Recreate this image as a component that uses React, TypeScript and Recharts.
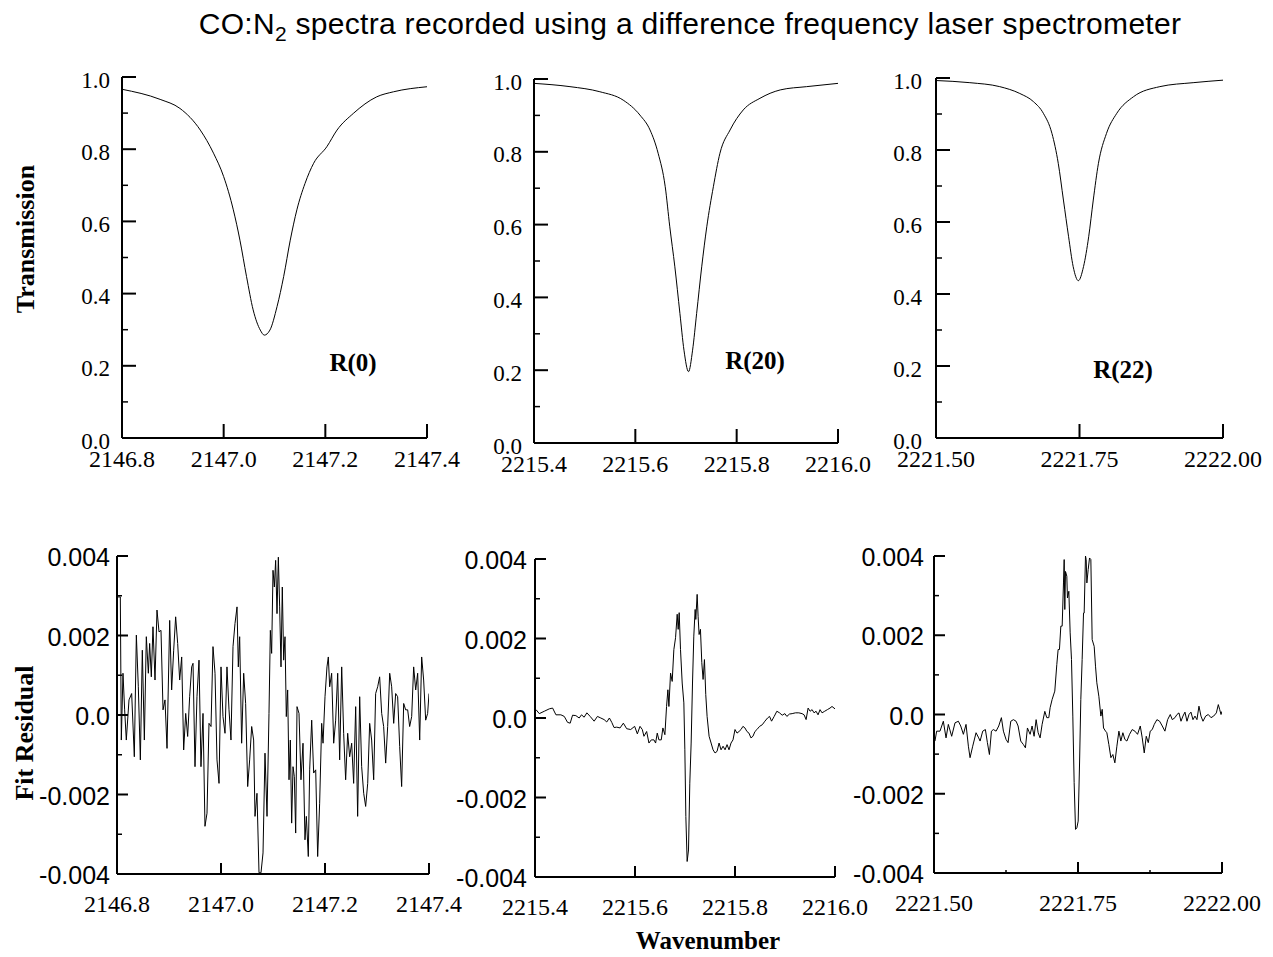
import React from "react";
import { LineChart, Line, XAxis, YAxis } from "recharts";

const SERIF = "'Liberation Serif', 'Times New Roman', serif";
const SANS = "'Liberation Sans', Arial, sans-serif";

// transmission, [wavenumber, transmission]
const transR0: [number, number][] = [
  [2146.8, 0.966], [2146.875, 0.938], [2146.914, 0.913], [2146.954, 0.853], [2146.98, 0.789],
  [2147.0, 0.724], [2147.019, 0.632], [2147.032, 0.548], [2147.045, 0.447], [2147.058, 0.355],
  [2147.072, 0.299], [2147.08, 0.285], [2147.091, 0.299], [2147.105, 0.364], [2147.118, 0.447],
  [2147.131, 0.548], [2147.144, 0.632], [2147.16, 0.705], [2147.177, 0.761], [2147.203, 0.807],
  [2147.223, 0.853], [2147.255, 0.899], [2147.301, 0.945], [2147.334, 0.959], [2147.4, 0.973],
];

const transR20: [number, number][] = [
  [2215.4, 0.988], [2215.471, 0.979], [2215.53, 0.965], [2215.576, 0.942], [2215.609, 0.901],
  [2215.629, 0.86], [2215.645, 0.796], [2215.659, 0.704], [2215.668, 0.594], [2215.678, 0.484],
  [2215.688, 0.356], [2215.696, 0.255], [2215.705, 0.196], [2215.713, 0.255], [2215.721, 0.356],
  [2215.731, 0.484], [2215.741, 0.594], [2215.754, 0.704], [2215.767, 0.796], [2215.787, 0.86],
  [2215.813, 0.915], [2215.846, 0.947], [2215.886, 0.97], [2215.938, 0.979], [2216.0, 0.988],
];

const transR22: [number, number][] = [
  [2221.5, 0.993], [2221.559, 0.987], [2221.611, 0.976], [2221.646, 0.957], [2221.67, 0.934],
  [2221.687, 0.902], [2221.702, 0.846], [2221.713, 0.763], [2221.722, 0.661], [2221.731, 0.559],
  [2221.739, 0.476], [2221.748, 0.437], [2221.757, 0.476], [2221.766, 0.559], [2221.774, 0.661],
  [2221.783, 0.763], [2221.797, 0.846], [2221.815, 0.902], [2221.844, 0.948], [2221.89, 0.976],
  [2221.948, 0.987], [2222.0, 0.994],
];

// fit residuals, [wavenumber, residual]
const residR0: [number, number][] = [
  [2146.8, 0.00297], [2146.8064, 0.00297], [2146.8083, -0.00063], [2146.8115, 0.00105], [2146.8147, 0.00013],
  [2146.8179, -0.00063], [2146.8231, 0.00038], [2146.8282, 0.00054], [2146.8333, -0.00105], [2146.8372, 0.00201],
  [2146.841, 0.00071], [2146.8449, -0.00113], [2146.8487, 0.00163], [2146.8526, -0.00063], [2146.8564, 0.00197],
  [2146.8603, 0.00105], [2146.8628, 0.0018], [2146.866, 0.00096], [2146.8692, 0.00222], [2146.8731, 0.00088],
  [2146.8769, 0.00264], [2146.8808, 0.00209], [2146.8846, 0.00213], [2146.8885, 0.00013], [2146.8923, 0.00038],
  [2146.8962, -0.00084], [2146.9013, 0.00238], [2146.9051, 0.00063], [2146.909, 0.00163], [2146.9128, 0.00247],
  [2146.9167, 0.0018], [2146.9205, 0.00088], [2146.9244, 0.00146], [2146.9282, -0.00088], [2146.9321, 0.00004],
  [2146.9359, -0.00054], [2146.9397, 0.00046], [2146.9436, 0.00121], [2146.9462, 0.0013], [2146.95, -0.0013],
  [2146.9538, 0.00046], [2146.9577, 0.00138], [2146.9615, -0.0013], [2146.9654, 0.00004], [2146.9692, -0.0028],
  [2146.9731, -0.00247], [2146.9769, -0.00021], [2146.9808, -0.00029], [2146.9846, 0.00172], [2146.9885, 0.00105],
  [2146.9923, -0.00113], [2146.9962, -0.00172], [2147.0, 0.00121], [2147.0038, -0.00004], [2147.0077, -0.00046],
  [2147.0115, 0.00121], [2147.0154, 0.00013], [2147.0192, -0.00063], [2147.0231, 0.00172], [2147.0269, 0.0023],
  [2147.0308, 0.00272], [2147.0333, 0.00121], [2147.0359, 0.00197], [2147.0397, -0.00071], [2147.0436, 0.00105],
  [2147.0474, 0.00029], [2147.0513, -0.0018], [2147.0551, -0.00113], [2147.059, -0.00029], [2147.0628, -0.00063],
  [2147.0654, -0.00255], [2147.0692, -0.00197], [2147.0731, -0.00397], [2147.0769, -0.00397], [2147.0808, -0.00347],
  [2147.0846, -0.00096], [2147.0885, -0.00255], [2147.0923, 0.00004], [2147.0949, 0.00213], [2147.0974, 0.00155],
  [2147.1, 0.00364], [2147.1026, 0.00322], [2147.1051, 0.00389], [2147.1077, 0.00255], [2147.1103, 0.00397],
  [2147.1128, 0.00272], [2147.1154, 0.00121], [2147.1179, 0.00322], [2147.1205, 0.00138], [2147.1231, 0.00197],
  [2147.1256, -0.00004], [2147.1282, 0.00063], [2147.1308, -0.00163], [2147.1333, -0.00063], [2147.1359, -0.00272],
  [2147.1385, -0.0013], [2147.141, -0.00155], [2147.1436, -0.00297], [2147.1462, 0.00021], [2147.15, 0.00004],
  [2147.1538, -0.00163], [2147.1577, -0.00071], [2147.1615, -0.00314], [2147.1641, -0.00255], [2147.1679, -0.00356],
  [2147.1705, -0.00138], [2147.1744, -0.00013], [2147.1782, -0.00146], [2147.1821, -0.00138], [2147.1859, -0.00356],
  [2147.1897, -0.00222], [2147.1936, -0.00021], [2147.1962, -0.00071], [2147.2, 0.00046], [2147.2038, 0.00121],
  [2147.2064, 0.00146], [2147.209, 0.00071], [2147.2128, 0.00105], [2147.2167, -0.00071], [2147.2205, -0.00013],
  [2147.2244, 0.00105], [2147.2282, -0.00113], [2147.2321, 0.00121], [2147.2359, -0.00046], [2147.2397, -0.00163],
  [2147.2436, -0.00046], [2147.2474, -0.00105], [2147.2513, -0.00071], [2147.2551, -0.00172], [2147.259, 0.00021],
  [2147.2628, -0.00255], [2147.2667, 0.00046], [2147.2705, -0.0013], [2147.2744, -0.00197], [2147.2782, -0.0023],
  [2147.2821, -0.00172], [2147.2859, -0.00021], [2147.2897, -0.00063], [2147.2936, -0.00163], [2147.2974, 0.00054],
  [2147.3013, 0.00071], [2147.3051, 0.00096], [2147.309, 0.00004], [2147.3128, -0.00029], [2147.3167, -0.00121],
  [2147.3205, -0.00029], [2147.3244, 0.00105], [2147.3282, 0.00071], [2147.3321, -0.00021], [2147.3359, 0.00054],
  [2147.3397, 0.00046], [2147.3436, -0.00079], [2147.3474, -0.0018], [2147.3513, 0.00029], [2147.3551, 0.00013],
  [2147.359, 0.00013], [2147.3628, -0.00029], [2147.3667, -0.00004], [2147.3705, 0.00121], [2147.3744, 0.00063],
  [2147.3782, 0.00105], [2147.3821, -0.00063], [2147.3859, 0.00146], [2147.3897, 0.00088], [2147.3936, -0.00013],
  [2147.3974, 0.00004], [2147.4, 0.00054],
];

const residR20: [number, number][] = [
  [2215.402, 0.00021], [2215.4086, 0.00011], [2215.4186, 0.00017], [2215.4286, 0.00023], [2215.4352, 0.00025],
  [2215.4419, 0.00008], [2215.4518, 0.00008], [2215.4585, 0.00004], [2215.4651, -0.00011], [2215.4704, -0.00013],
  [2215.4751, 0.00007], [2215.4817, 0.00006], [2215.4884, 0.0], [2215.493, 0.00008], [2215.4983, 0.00002],
  [2215.5037, 0.00013], [2215.5103, 0.00004], [2215.5183, -0.00008], [2215.5249, 0.00004], [2215.5316, 0.0],
  [2215.5382, -0.00004], [2215.5435, -0.0001], [2215.5488, 0.0], [2215.5535, -0.00011], [2215.5581, -0.00024],
  [2215.5635, -0.00023], [2215.5701, -0.00025], [2215.5767, -0.00013], [2215.5834, -0.00027], [2215.5914, -0.00029],
  [2215.5993, -0.00021], [2215.6047, -0.0004], [2215.61, -0.00021], [2215.6146, -0.00029], [2215.6179, -0.00046],
  [2215.6233, -0.00034], [2215.6279, -0.00063], [2215.6326, -0.00055], [2215.6379, -0.00055], [2215.6412, -0.00063],
  [2215.6445, -0.00038], [2215.6478, -0.00055], [2215.6525, -0.00055], [2215.6558, -0.00025], [2215.6598, -0.00042],
  [2215.6631, 0.00029], [2215.6658, 0.00071], [2215.6678, 0.00029], [2215.6711, 0.00113], [2215.6744, 0.00092],
  [2215.6777, 0.00172], [2215.6811, 0.00202], [2215.6844, 0.00261], [2215.6864, 0.00223], [2215.6884, 0.00265],
  [2215.691, 0.00172], [2215.6944, 0.00088], [2215.6977, 0.00038], [2215.6997, -0.0008], [2215.7017, -0.00248],
  [2215.7043, -0.00361], [2215.707, -0.00332], [2215.7096, -0.00164], [2215.7123, -0.00063], [2215.715, 0.00088],
  [2215.7176, 0.00206], [2215.7203, 0.00273], [2215.7216, 0.00248], [2215.7243, 0.00311], [2215.7262, 0.00256],
  [2215.7282, 0.0021], [2215.7309, 0.00223], [2215.7336, 0.00139], [2215.7362, 0.00097], [2215.7389, 0.00147],
  [2215.7415, 0.00059], [2215.7442, 0.00004], [2215.7482, -0.00046], [2215.7522, -0.00063], [2215.7561, -0.0008],
  [2215.7601, -0.00088], [2215.7641, -0.00084], [2215.7681, -0.00063], [2215.7721, -0.0008], [2215.7761, -0.00071],
  [2215.7801, -0.0008], [2215.7841, -0.00067], [2215.788, -0.0008], [2215.792, -0.00063], [2215.796, -0.00055],
  [2215.8, -0.00029], [2215.804, -0.00038], [2215.808, -0.00034], [2215.812, -0.00029], [2215.8159, -0.00021],
  [2215.8199, -0.00025], [2215.8239, -0.00034], [2215.8279, -0.00038], [2215.8319, -0.0005], [2215.8359, -0.00046],
  [2215.8399, -0.00034], [2215.8439, -0.00029], [2215.8492, -0.00021], [2215.8545, -0.00017], [2215.8598, -0.00008],
  [2215.8651, 0.0], [2215.8691, 0.00004], [2215.8731, -0.00008], [2215.8784, 0.00004], [2215.8837, 0.00017],
  [2215.889, 0.00013], [2215.8944, 0.00007], [2215.8997, 0.00011], [2215.9037, 0.00004], [2215.909, 0.0001],
  [2215.9143, 0.00011], [2215.9209, 0.00013], [2215.9276, 0.00013], [2215.9342, 0.00011], [2215.9382, 0.00008],
  [2215.9422, -0.00004], [2215.9462, 0.00025], [2215.9502, 0.00017], [2215.9542, 0.00021], [2215.9581, 0.00013],
  [2215.9621, 0.00017], [2215.9661, 0.00008], [2215.9701, 0.00021], [2215.9741, 0.00013], [2215.9794, 0.00017],
  [2215.9847, 0.00021], [2215.99, 0.00025], [2215.994, 0.00029], [2216.0, 0.00023],
];

const residR22: [number, number][] = [
  [2221.5017, -0.00067], [2221.5046, -0.00042], [2221.5104, -0.00042], [2221.5162, -0.00017], [2221.5209, -0.00059],
  [2221.5249, -0.00025], [2221.5307, -0.00055], [2221.5365, -0.00021], [2221.5423, -0.00017], [2221.5464, -0.00029],
  [2221.551, -0.0005], [2221.5556, -0.00025], [2221.5597, -0.0008], [2221.5626, -0.00109], [2221.5672, -0.0008],
  [2221.573, -0.00046], [2221.5776, -0.00059], [2221.58, -0.00067], [2221.5846, -0.00042], [2221.5892, -0.00038],
  [2221.5927, -0.00071], [2221.5962, -0.00101], [2221.5997, -0.00042], [2221.6031, -0.00038], [2221.6078, -0.00042],
  [2221.6124, -0.00029], [2221.617, -0.00008], [2221.6205, -0.00042], [2221.6251, -0.00063], [2221.6286, -0.00071],
  [2221.6333, -0.00017], [2221.6379, -0.00013], [2221.6425, -0.00017], [2221.646, -0.00029], [2221.6506, -0.00067],
  [2221.6553, -0.00076], [2221.6587, -0.00084], [2221.6622, -0.00034], [2221.6645, -0.00042], [2221.6669, -0.0005],
  [2221.6703, -0.00029], [2221.6738, -0.00055], [2221.6773, -0.00013], [2221.6808, -0.00046], [2221.6842, -0.00059],
  [2221.6877, -0.00025], [2221.6924, 0.00008], [2221.6958, -0.00008], [2221.6993, -0.00008], [2221.7016, 0.00017],
  [2221.7051, 0.00038], [2221.7097, 0.00059], [2221.7132, 0.00126], [2221.7155, 0.00164], [2221.7178, 0.00164],
  [2221.7202, 0.00223], [2221.7225, 0.00223], [2221.7248, 0.00332], [2221.726, 0.00391], [2221.7271, 0.00265],
  [2221.7283, 0.00361], [2221.7306, 0.00349], [2221.7317, 0.00294], [2221.7341, 0.00311], [2221.7364, 0.00206],
  [2221.7387, 0.00139], [2221.741, -0.00004], [2221.7433, -0.00172], [2221.7457, -0.0029], [2221.748, -0.00286],
  [2221.7503, -0.00269], [2221.7526, -0.0013], [2221.7549, 0.00038], [2221.7572, 0.00139], [2221.7596, 0.00256],
  [2221.7607, 0.00256], [2221.763, 0.004], [2221.7642, 0.00391], [2221.7654, 0.00332], [2221.7677, 0.00366],
  [2221.77, 0.00395], [2221.7723, 0.00391], [2221.7746, 0.00189], [2221.7781, 0.00172], [2221.7804, 0.00122],
  [2221.7827, 0.0008], [2221.7862, 0.00046], [2221.7897, -0.00004], [2221.792, 0.00013], [2221.7943, -0.00034],
  [2221.7978, -0.00042], [2221.8001, -0.00046], [2221.8036, -0.00076], [2221.8071, -0.00109], [2221.8105, -0.00101],
  [2221.814, -0.00122], [2221.8175, -0.0008], [2221.821, -0.00042], [2221.8244, -0.00067], [2221.8279, -0.00046],
  [2221.8314, -0.00063], [2221.8349, -0.00067], [2221.8395, -0.0005], [2221.8441, -0.00038], [2221.8488, -0.00042],
  [2221.8534, -0.0005], [2221.8581, -0.00029], [2221.8615, -0.00059], [2221.865, -0.00097], [2221.8685, -0.00055],
  [2221.872, -0.00071], [2221.8754, -0.00042], [2221.8789, -0.00038], [2221.8824, -0.00025], [2221.887, -0.00013],
  [2221.8917, -0.00017], [2221.8963, -0.00029], [2221.9009, -0.00042], [2221.9056, -0.00013], [2221.9102, 0.0],
  [2221.9137, -0.00013], [2221.9183, -0.00008], [2221.9218, 0.0], [2221.9253, 0.00004], [2221.9288, -0.00017],
  [2221.9322, -0.00004], [2221.9357, 0.00006], [2221.9392, -0.00017], [2221.9427, 0.0], [2221.9461, 0.00006],
  [2221.9496, -0.00013], [2221.9531, -0.00004], [2221.9565, -0.00013], [2221.96, 0.00021], [2221.9635, -0.00004],
  [2221.967, -0.00017], [2221.9716, -0.00004], [2221.9762, 0.0], [2221.9809, -0.00008], [2221.9855, -0.00004],
  [2221.9902, 0.00004], [2221.9936, 0.00025], [2221.9959, 0.00013], [2221.9983, 0.0], [2222.0, 0.00008],
];

// axis ticks
const transTicks = [0, 0.2, 0.4, 0.6, 0.8, 1.0];
const transMinor = [0.1, 0.3, 0.5, 0.7, 0.9];
const residTicks = [-0.004, -0.002, 0, 0.002, 0.004];
const residMinor = [-0.003, -0.001, 0.001, 0.003];
const xTicksR0 = [2146.8, 2147.0, 2147.2, 2147.4];
const xTicksR20 = [2215.4, 2215.6, 2215.8, 2216.0];
const xTicksR22 = [2221.5, 2221.75, 2222.0];
const xMinorR22 = [2221.625, 2221.875];
const lineNames = ["R(0)", "R(20)", "R(22)"];

const fmtTrans = (v: number) => v.toFixed(1);
const fmtResid = (v: number) => (v === 0 ? "0.0" : v.toFixed(3));

const ML = 90;
const MT = 20;
const MR = 60;
const MB = 60;

type PanelProps = {
  data: [number, number][];
  box: [number, number, number, number]; // left, top, right, bottom of plot
  xDomain: [number, number];
  xTicks: number[];
  xMinor?: number[];
  xDigits: number;
  xLabelOffset: number;
  yDomain: [number, number];
  yTicks: number[];
  yMinor: number[];
  yFmt: (v: number) => string;
  yFont: string;
  ySize: number;
  yGap: number;
  yDy: number;
  majorLen: number;
  minorLen: number;
  smooth?: boolean;
};

function Panel(p: PanelProps) {
  const [l, t, r, b] = p.box;
  const rows = p.data.map(([x, y]) => ({ x, y }));
  const xMinor = p.xMinor || [];

  const yTick = (props: any) => {
    const { x, y, payload } = props;
    const major = p.yTicks.includes(payload.value);
    return (
      <g>
        <line x1={x} x2={x + (major ? p.majorLen : p.minorLen)} y1={y} y2={y} stroke="#000" strokeWidth={major ? 2 : 1.5} />
        {major && (
          <text x={x - p.yGap} y={y + p.yDy} textAnchor="end" dominantBaseline="central" fontFamily={p.yFont} fontSize={p.ySize} fill="#000">
            {p.yFmt(payload.value)}
          </text>
        )}
      </g>
    );
  };

  const xTick = (props: any) => {
    const { x, y, payload } = props;
    const major = p.xTicks.includes(payload.value);
    return (
      <g>
        <line x1={x} x2={x} y1={y} y2={y - (major ? p.majorLen : p.minorLen * 0.6)} stroke="#000" strokeWidth={major ? 2 : 1.5} />
        {major && (
          <text x={x} y={y + p.xLabelOffset} textAnchor="middle" dominantBaseline="central" fontFamily={SERIF} fontSize={24} fill="#000">
            {payload.value.toFixed(p.xDigits)}
          </text>
        )}
      </g>
    );
  };

  return (
    <div style={{ position: "absolute", left: l - ML, top: t - MT }}>
      <LineChart width={r - l + ML + MR} height={b - t + MT + MB} data={rows} margin={{ top: MT, right: MR, bottom: 0, left: 0 }}>
        <XAxis
          type="number"
          dataKey="x"
          domain={p.xDomain}
          ticks={[...p.xTicks, ...xMinor]}
          interval={0}
          tickSize={0}
          tickMargin={0}
          height={MB}
          axisLine={{ stroke: "#000", strokeWidth: 2 }}
          tick={xTick}
          allowDataOverflow
        />
        <YAxis
          type="number"
          domain={p.yDomain}
          ticks={[...p.yTicks, ...p.yMinor]}
          interval={0}
          tickSize={0}
          tickMargin={0}
          width={ML}
          axisLine={{ stroke: "#000", strokeWidth: 2 }}
          tick={yTick}
          allowDataOverflow
        />
        <Line
          type={p.smooth ? "monotone" : "linear"}
          dataKey="y"
          stroke="#000"
          strokeWidth={1}
          dot={false}
          isAnimationActive={false}
        />
      </LineChart>
    </div>
  );
}

const topCommon = {
  yDomain: [0, 1] as [number, number],
  yTicks: transTicks,
  yMinor: transMinor,
  yFmt: fmtTrans,
  yFont: SERIF,
  ySize: 23,
  yDy: 3,
  xLabelOffset: 21,
  majorLen: 14,
  minorLen: 6,
  smooth: true,
};

const botCommon = {
  yDomain: [-0.004, 0.004] as [number, number],
  yTicks: residTicks,
  yMinor: residMinor,
  yFmt: fmtResid,
  yFont: SANS,
  ySize: 25,
  yDy: 1,
  xLabelOffset: 30,
  majorLen: 11,
  minorLen: 5,
};

export default function App() {
  return (
    <div style={{ position: "absolute", left: 0, top: 0, width: 1273, height: 957, background: "#fff" }}>
      <Panel {...topCommon} data={transR0} box={[122, 77, 427, 438]} xDomain={[2146.8, 2147.4]} xTicks={xTicksR0} xDigits={1} yGap={12} />
      <Panel {...topCommon} data={transR20} box={[534, 79, 838, 443]} xDomain={[2215.4, 2216.0]} xTicks={xTicksR20} xDigits={1} yGap={12} />
      <Panel {...topCommon} data={transR22} box={[936, 78, 1223, 438]} xDomain={[2221.5, 2222.0]} xTicks={xTicksR22} xDigits={2} yGap={14} />
      <Panel {...botCommon} data={residR0} box={[117, 556, 429, 874]} xDomain={[2146.8, 2147.4]} xTicks={xTicksR0} xDigits={1} yGap={7} />
      <Panel {...botCommon} data={residR20} box={[535, 559, 835, 877]} xDomain={[2215.4, 2216.0]} xTicks={xTicksR20} xDigits={1} yGap={8} />
      <Panel {...botCommon} data={residR22} box={[934, 556, 1222, 873]} xDomain={[2221.5, 2222.0]} xTicks={xTicksR22} xMinor={xMinorR22} xDigits={2} yGap={10} />

      <svg width={1273} height={957} style={{ position: "absolute", left: 0, top: 0, pointerEvents: "none" }}>
        <text x={690} y={34} textAnchor="middle" fontFamily={SANS} fontSize={30} letterSpacing={0.3} fill="#000">
          CO:N<tspan dy={7} fontSize={21}>2</tspan>
          <tspan dy={-7}> spectra recorded using a difference frequency laser spectrometer</tspan>
        </text>
        <text transform="translate(34,239) rotate(-90)" textAnchor="middle" fontFamily={SERIF} fontWeight="bold" fontSize={26} fill="#000">
          Transmission
        </text>
        <text transform="translate(33,733) rotate(-90)" textAnchor="middle" fontFamily={SERIF} fontWeight="bold" fontSize={26} fill="#000">
          Fit Residual
        </text>
        <text x={708} y={949} textAnchor="middle" fontFamily={SERIF} fontWeight="bold" fontSize={25} fill="#000">
          Wavenumber
        </text>
        <text x={353} y={371} textAnchor="middle" fontFamily={SERIF} fontWeight="bold" fontSize={25} fill="#000">
          {lineNames[0]}
        </text>
        <text x={755} y={369} textAnchor="middle" fontFamily={SERIF} fontWeight="bold" fontSize={25} fill="#000">
          {lineNames[1]}
        </text>
        <text x={1123} y={378} textAnchor="middle" fontFamily={SERIF} fontWeight="bold" fontSize={25} fill="#000">
          {lineNames[2]}
        </text>
      </svg>
    </div>
  );
}
